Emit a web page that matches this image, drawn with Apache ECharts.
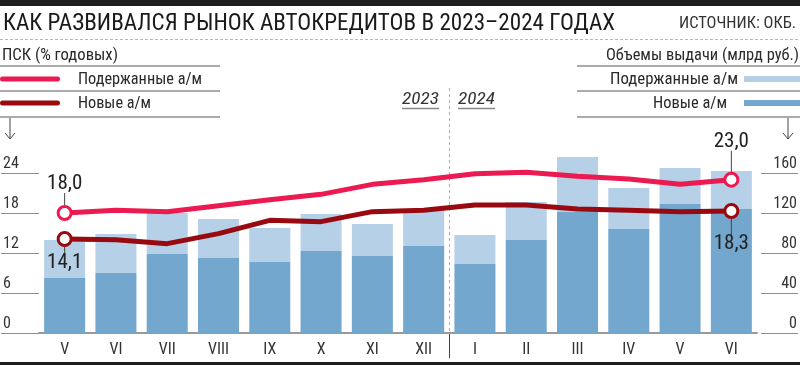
<!DOCTYPE html>
<html>
<head>
<meta charset="utf-8">
<script src="https://cdn.jsdelivr.net/npm/echarts@6/dist/echarts.min.js"></script>
<style>html,body{margin:0;padding:0;background:#fff;}#c{width:800px;height:365px;}</style>
</head>
<body>
<div id="c"></div>
<script>
// ---- data ----
const categories = ['V','VI','VII','VIII','IX','X','XI','XII','I','II','III','IV','V','VI'];
const rateUsed = [18.0, 18.4, 18.2, 19.1, 20.0, 20.8, 22.3, 23.0, 23.9, 24.1, 23.5, 23.1, 22.3, 23.0];
const rateNew  = [14.1, 14.0, 13.4, 14.9, 16.9, 16.7, 18.2, 18.4, 19.2, 19.2, 18.6, 18.4, 18.2, 18.3];
const volNew   = [55, 60, 79, 75, 71, 82, 77, 87, 69, 93, 121, 104, 129, 124];
const volUsed  = [38, 39, 41, 39, 34, 37, 32, 36, 29, 38, 55, 41, 36, 38];
const leftTicks = [0, 6, 12, 18, 24];
const rightTicks = [0, 40, 80, 120, 160];
const yearSplitAfter = 7; // boundary between 'XII' (2023) and 'I' (2024)

// ---- font detection (prefer a condensed face) ----
const mctx = document.createElement('canvas').getContext('2d');
function mw(font, s) { mctx.font = font; return mctx.measureText(s || 'КАК РАЗВИВАЛСЯ Рынок 0123456789').width; }
function hasFamily(f) {
  return mw('20px ' + f + ', monospace') !== mw('20px monospace') || mw('20px ' + f + ', serif') !== mw('20px serif');
}
let FAM = null, STRETCH = '';
for (const f of ['"Liberation Sans Narrow"', '"Roboto Condensed"', '"Arial Narrow"', '"DejaVu Sans Condensed"', '"Nimbus Sans Narrow"']) {
  if (hasFamily(f)) { FAM = f; break; }
}
if (!FAM) {
  for (const f of ['"Liberation Sans"', '"DejaVu Sans"', 'Roboto', '"Noto Sans"']) {
    if (mw('condensed 20px ' + f) < mw('20px ' + f) * 0.93) { FAM = f; STRETCH = 'condensed'; break; }
  }
}
if (!FAM) FAM = 'Roboto, "Liberation Sans", sans-serif';
const FONT = FAM + ', sans-serif';
const fontStr = (size, italic) => [italic ? 'italic' : '', STRETCH, size + 'px', FONT].filter(Boolean).join(' ');
const ts = (size) => ({fontSize: size, fontFamily: FONT, fontStyle: STRETCH || 'normal'});

const RED = '#eb1a50', DARK = '#990a10', LBLUE = '#b6d0e8', DBLUE = '#74a7cd';
const GRAY = '#8f8f8f';

const fmt = v => v.toFixed(1).replace('.', ',');
const n = categories.length;

function lineData(arr, top, connFirst, connLast) {
  return arr.map((v, i) => {
    if (i !== 0 && i !== n - 1) return v;
    const conn = i === 0 ? connFirst : connLast;
    return {
      value: v,
      label: {
        show: true,
        position: top ? 'top' : 'bottom',
        distance: 0,
        formatter: top ? '{v|' + fmt(v) + '}\n{c| }' : '{c| }\n{v|' + fmt(v) + '}',
        rich: {
          v: Object.assign(ts(21), {color: '#222', lineHeight: 18, align: 'center'}),
          c: {width: 1, height: conn, lineHeight: conn, backgroundColor: '#444', align: 'center', fontSize: 1}
        }
      }
    };
  });
}

// text fitted to the width it has in the reference
function txt(text, x, y, width, opts) {
  opts = opts || {};
  const font = opts.font || fontStr(16);
  const real = mw(font, text);
  const s = width ? width / real : 1;
  return {type: 'text', x, y, scaleX: s, scaleY: 1,
    style: {text, x: 0, y: 0, fill: opts.fill || '#2a2a2a', font, align: opts.align || 'left', verticalAlign: 'middle'}};
}
function ln(x1, y1, x2, y2, stroke, w, extra) {
  return {type: 'line', shape: {x1, y1, x2, y2}, style: Object.assign({stroke, lineWidth: w}, extra || {})};
}
function arrow(x, y1, y2) {
  return [ln(x, y1, x, y2, '#444', 1),
    {type: 'polyline', shape: {points: [[x - 5, y2 - 6], [x, y2], [x + 5, y2 - 6]]}, style: {stroke: '#444', lineWidth: 1, fill: null}}];
}

const chart = echarts.init(document.getElementById('c'), null, {renderer: 'canvas'});

const baseGraphic = [
  {type: 'rect', shape: {x: 0, y: 0, width: 800, height: 6}, style: {fill: '#1e1e1e'}},
  {type: 'rect', shape: {x: 0, y: 362, width: 800, height: 3}, style: {fill: '#1e1e1e'}},
  txt('КАК РАЗВИВАЛСЯ РЫНОК АВТОКРЕДИТОВ В 2023–2024 ГОДАХ', 3, 24, 612, {font: fontStr(23), fill: '#1a1a1a'}),
  txt('ИСТОЧНИК: ОКБ.', 796, 24, 117, {font: fontStr(16), align: 'right', fill: '#333'}),
  ln(0, 39.5, 800, 39.5, '#b5b5b5', 1, {lineDash: [3, 2]}),
  // left legend
  txt('ПСК (% годовых)', 2, 56, 116),
  ln(0, 66, 220, 66, GRAY, 1.5),
  ln(2.5, 79, 57.5, 79, RED, 5, {lineCap: 'round'}),
  txt('Подержанные а/м', 78, 80, 124),
  ln(0, 91, 220, 91, GRAY, 1.5),
  ln(2.5, 103, 57.5, 103, DARK, 5, {lineCap: 'round'}),
  txt('Новые а/м', 78, 104, 73),
  ln(0, 117, 220, 117, GRAY, 1.5),
  ...arrow(10, 118, 139),
  // right legend
  txt('Объемы выдачи (млрд руб.)', 799, 56, 193, {align: 'right'}),
  ln(577, 66, 800, 66, GRAY, 1.5),
  txt('Подержанные а/м', 738, 80, 128, {align: 'right'}),
  {type: 'rect', shape: {x: 744, y: 76, width: 56, height: 6}, style: {fill: LBLUE}},
  ln(577, 91, 800, 91, GRAY, 1.5),
  txt('Новые а/м', 727, 104, 74, {align: 'right'}),
  {type: 'rect', shape: {x: 744, y: 100, width: 56, height: 6}, style: {fill: DBLUE}},
  ln(577, 117, 800, 117, GRAY, 1.5),
  ...arrow(788, 118, 139),
  // years
  txt('2023', 439, 100, 37, {align: 'right', font: fontStr(17, true), fill: '#333'}),
  ln(402, 108.5, 439, 108.5, '#888', 1.5),
  txt('2024', 458, 100, 37, {align: 'left', font: fontStr(17, true), fill: '#333'}),
  ln(458, 108.5, 495, 108.5, '#888', 1.5)
];

chart.setOption({
  animation: false,
  backgroundColor: '#fff',
  textStyle: {fontFamily: FONT},
  grid: {left: 38, right: 41, top: 88, bottom: 32, containLabel: false},
  xAxis: {
    type: 'category',
    data: categories,
    axisLine: {show: true, lineStyle: {color: '#9a9a9a', width: 2}},
    axisTick: {show: false},
    axisLabel: Object.assign(ts(16), {interval: 0, color: '#333', margin: 9}),
    splitLine: {show: false}
  },
  yAxis: [{
    type: 'value', min: 0, max: 36.75, interval: 6,
    axisLine: {show: false}, splitLine: {show: false},
    axisTick: {show: true, length: 38, customValues: leftTicks, lineStyle: {color: GRAY, width: 1}},
    axisLabel: Object.assign(ts(16), {customValues: leftTicks, align: 'left', margin: 36, verticalAlign: 'bottom', padding: [0, 0, 1, 0],
      color: '#333', formatter: v => v <= 24 ? String(v) : ''})
  }, {
    type: 'value', min: 0, max: 245, interval: 40, position: 'right', offset: 4,
    axisLine: {show: false}, splitLine: {show: false},
    axisTick: {show: true, length: 37, customValues: rightTicks, lineStyle: {color: GRAY, width: 1}},
    axisLabel: Object.assign(ts(16), {customValues: rightTicks, align: 'right', margin: 36, verticalAlign: 'bottom', padding: [0, 0, 1, 0],
      color: '#333', formatter: v => v <= 160 ? String(v) : ''})
  }],
  series: [{
    name: 'Объем: новые а/м', type: 'bar', yAxisIndex: 1, stack: 'vol', data: volNew,
    barCategoryGap: '20%', itemStyle: {color: DBLUE}, clip: false
  }, {
    name: 'Объем: подержанные а/м', type: 'bar', yAxisIndex: 1, stack: 'vol', data: volUsed,
    barCategoryGap: '20%', itemStyle: {color: LBLUE}, clip: false
  }, {
    name: 'ПСК: подержанные а/м', type: 'line', yAxisIndex: 0,
    data: lineData(rateUsed, true, 12, 21),
    symbol: 'circle', showAllSymbol: true,
    symbolSize: (v, p) => (p.dataIndex === 0 || p.dataIndex === n - 1) ? 13 : 0,
    lineStyle: {color: RED, width: 5, join: 'round', cap: 'round'},
    itemStyle: {color: '#fff', borderColor: RED, borderWidth: 3},
    z: 5, clip: false
  }, {
    name: 'ПСК: новые а/м', type: 'line', yAxisIndex: 0,
    data: lineData(rateNew, false, 7, 16),
    symbol: 'circle', showAllSymbol: true,
    symbolSize: (v, p) => (p.dataIndex === 0 || p.dataIndex === n - 1) ? 13 : 0,
    lineStyle: {color: DARK, width: 5, join: 'round', cap: 'round'},
    itemStyle: {color: '#fff', borderColor: DARK, borderWidth: 3},
    z: 5, clip: false
  }],
  graphic: baseGraphic
});

// year divider placed through the category scale
const xa = chart.convertToPixel({xAxisIndex: 0}, yearSplitAfter);
const xb = chart.convertToPixel({xAxisIndex: 0}, yearSplitAfter + 1);
const xd = Math.round((xa + xb) / 2) + 0.5;
const yTop = 88, yBase = chart.convertToPixel({yAxisIndex: 0}, 0);
chart.setOption({graphic: baseGraphic.concat([
  ln(xd, yTop, xd, yBase, '#aaa', 1, {lineDash: [3, 3]}),
  ln(xd, yBase, xd, yBase + 25, '#444', 1)
])});
</script>
</body>
</html>
